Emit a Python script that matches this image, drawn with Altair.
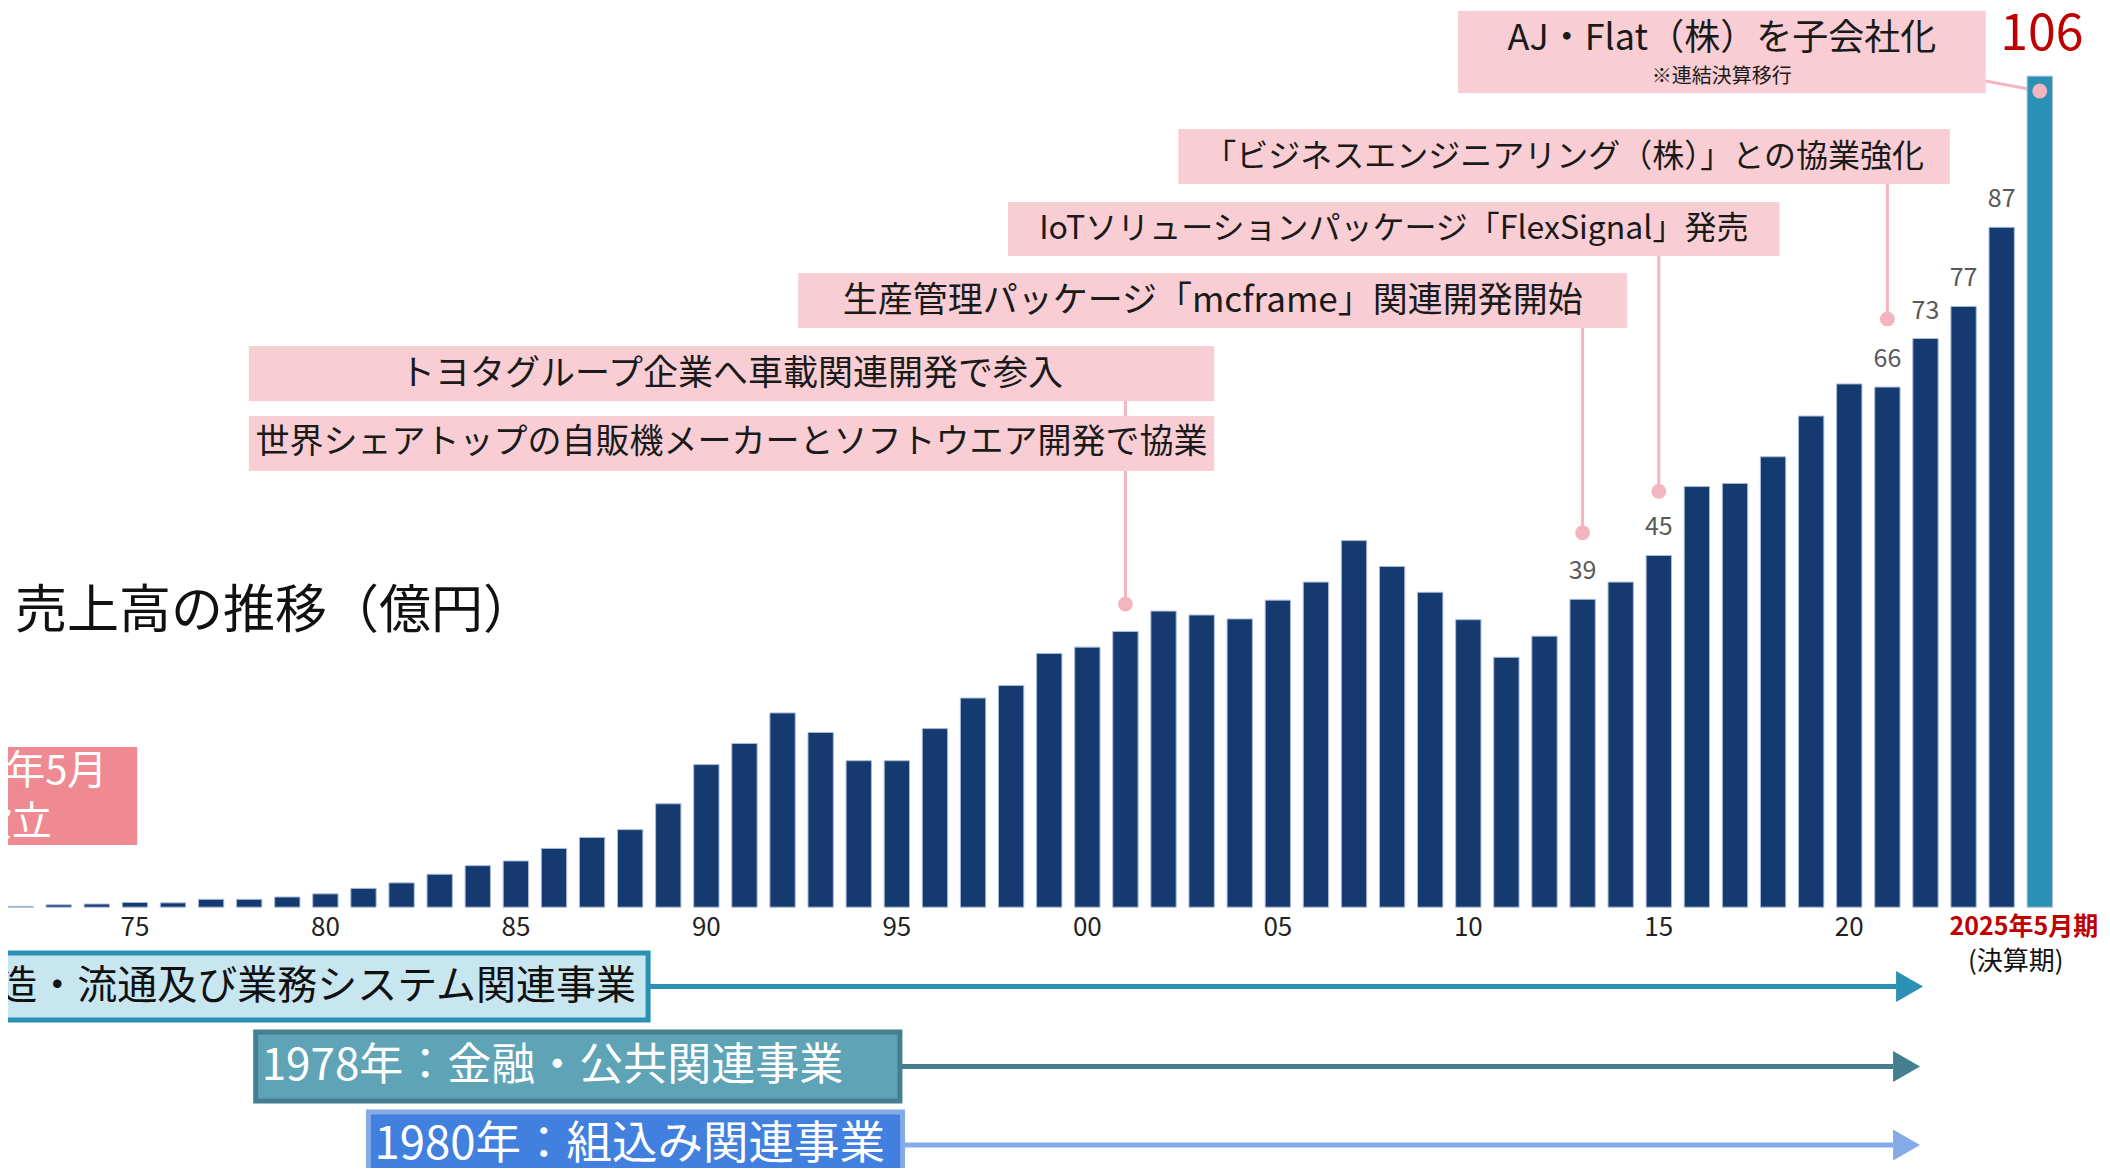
import altair as alt
import pandas as pd

# ---------------- data ----------------
years = list(range(1972, 2026))
sales = [0.1, 0.3, 0.4, 0.6, 0.55, 1.0, 1.0, 1.3, 1.7, 2.4,
         3.1, 4.2, 5.3, 5.9, 7.5, 8.9, 9.9, 13.2, 18.2, 20.9,
         24.8, 22.3, 18.7, 18.7, 22.8, 26.7, 28.3, 32.4, 33.2, 35.2,
         37.8, 37.3, 36.8, 39.2, 41.5, 46.8, 43.5, 40.2, 36.7, 31.9,
         34.6, 39.3, 41.5, 44.9, 53.7, 54.1, 57.5, 62.7, 66.8, 66.4,
         72.6, 76.7, 86.8, 106.1]

label_years = [2013, 2015, 2021, 2022, 2023, 2024]
label_texts = ["39", "45", "66", "73", "77", "87"]
latest_year = [2025]
latest_text = ["106"]

tick_years = [1975, 1980, 1985, 1990, 1995, 2000, 2005, 2010, 2015, 2020]
tick_texts = ["75", "80", "85", "90", "95", "00", "05", "10", "15", "20"]

title_text = "売上高の推移（億円）"
found_lines = ["1970年5月", "設立"]
period_text = "2025年5月期"
period_sub = "(決算期)"

event_texts = ["AJ・Flat（株）を子会社化",
               "「ビジネスエンジニアリング（株）」との協業強化",
               "IoTソリューションパッケージ「FlexSignal」発売",
               "生産管理パッケージ「mcframe」関連開発開始",
               "トヨタグループ企業へ車載関連開発で参入",
               "世界シェアトップの自販機メーカーとソフトウエア開発で協業"]
event_note = "※連結決算移行"
event_box_x0 = [2009.73, 2002.39, 1997.92, 1992.41, 1977.99, 1977.99]
event_box_x1 = [2023.58, 2022.64, 2018.17, 2014.17, 2003.33, 2003.33]
event_box_y0 = [103.95, 92.33, 83.14, 73.94, 64.62, 55.69]
event_box_y1 = [114.42, 99.35, 90.03, 80.97, 71.65, 62.71]
event_font = [36, 32, 32, 35, 35, 34]

leader_year = [2021, 2015, 2013, 2001]
leader_top = [92.33, 83.14, 73.94, 64.62]
leader_dot = [75.1, 53.1, 47.8, 38.7]
aj_leader = {"x": 2023.58, "y": 105.48, "x2": 2025, "y2": 104.2}

row_texts = ["1970年：製造・流通及び業務システム関連事業",
             "1978年：金融・公共関連事業",
             "1980年：組込み関連事業"]
row_x0 = [1970.0, 1978.17, 1981.13]
row_x1 = [1988.47, 1995.08, 1995.15]
row_top = [-5.85, -15.94, -26.15]
row_bot = [-14.41, -24.75, -40.0]
row_arrow_end = [2021.23, 2021.15, 2021.15]
row_fill = ["#C7E6F0", "#5FA3B6", "#4180DF"]
row_stroke = ["#2A91B4", "#437F8F", "#84AAE8"]
row_font = [40, 44, 45.5]

# ---------------- geometry ----------------
W, H = 2094, 1160
PX_YEAR = 38.28
PX_UNIT = 7.8325
X0 = 1971.8
X1 = X0 + W / PX_YEAR
YMAX = 114.8
YMIN = YMAX - H / PX_UNIT

xs = alt.Scale(domain=[X0, X1], nice=False, zero=False)
ys = alt.Scale(domain=[YMIN, YMAX], nice=False, zero=False)
FONT = "Noto Sans CJK JP"

navy = "#143A6F"
teal = "#2A91B4"
pink_box = "#F8CDD3"
pink_line = "#F4B5BE"


def X(f):
    return alt.X(f, type="quantitative", scale=xs, axis=None)


def Y(f):
    return alt.Y(f, type="quantitative", scale=ys, axis=None)


# ---------------- layers ----------------
bars_df = pd.DataFrame({"year": years, "sales": sales})
bars = alt.Chart(bars_df).mark_bar(size=25.3, stroke="#A8BAD8", strokeWidth=1).encode(
    x=X("year"), y=Y("sales"), y2=alt.datum(0),
    color=alt.condition(alt.datum.year == 2025, alt.value(teal), alt.value(navy)),
)

sales_of = dict(zip(years, sales))
lab_df = pd.DataFrame({"year": label_years,
                       "v": [sales_of[y] for y in label_years],
                       "t": label_texts})
labels = alt.Chart(lab_df).mark_text(dy=-28, fontSize=25, color="#595959", font=FONT).encode(
    x=X("year"), y=Y("v"), text="t:N")

lat_df = pd.DataFrame({"year": latest_year, "v": [sales_of[y] for y in latest_year], "t": latest_text})
latest = alt.Chart(lat_df).mark_text(dy=-41, dx=2, fontSize=50, color="#C00000", font=FONT).encode(
    x=X("year"), y=Y("v"), text="t:N")

# leaders
lead_df = pd.DataFrame({"x": leader_year, "y": leader_top, "y2": leader_dot})
leaders = alt.Chart(lead_df).mark_rule(color=pink_line, strokeWidth=3).encode(
    x=X("x"), y=Y("y"), y2="y2:Q")
aj_df = pd.DataFrame([aj_leader])
aj_line = alt.Chart(aj_df).mark_rule(color=pink_line, strokeWidth=3).encode(
    x=X("x"), y=Y("y"), x2="x2:Q", y2="y2:Q")
dot_df = pd.DataFrame({"x": leader_year + [aj_leader["x2"]], "y": leader_dot + [aj_leader["y2"]]})
dots = alt.Chart(dot_df).mark_point(shape="circle", filled=True, size=220, opacity=1, color=pink_line).encode(
    x=X("x"), y=Y("y"))

# event boxes
ev_df = pd.DataFrame({"t": event_texts, "x0": event_box_x0, "x1": event_box_x1,
                      "y0": event_box_y0, "y1": event_box_y1, "fs": event_font})
ev_df["cx"] = (ev_df["x0"] + ev_df["x1"]) / 2
ev_df["cy"] = (ev_df["y0"] + ev_df["y1"]) / 2
ev_df.loc[0, "cy"] = 110.84
boxes = alt.Chart(ev_df).mark_rect(color=pink_box).encode(
    x=X("x0"), x2="x1:Q", y=Y("y0"), y2="y1:Q")
ev_text = alt.Chart(ev_df).mark_text(font=FONT, color="#1A1A1A", baseline="middle").encode(
    x=X("cx"), y=Y("cy"), text="t:N", size=alt.Size("fs:Q", scale=None))
note_df = pd.DataFrame({"x": [ev_df.loc[0, "cx"]], "y": [106.0], "t": [event_note]})
note = alt.Chart(note_df).mark_text(font=FONT, fontSize=20, color="#1A1A1A", baseline="middle").encode(
    x=X("x"), y=Y("y"), text="t:N")

# title
title_df = pd.DataFrame({"x": [1971.85], "y": [37.69], "t": [title_text]})
title = alt.Chart(title_df).mark_text(font=FONT, fontSize=52, color="#111111", align="left",
                                      baseline="middle").encode(x=X("x"), y=Y("y"), text="t:N")

# founding box
fb_df = pd.DataFrame({"x0": [1969.0], "x1": [1975.06], "y0": [7.94], "y1": [20.45]})
found_box = alt.Chart(fb_df).mark_rect(color="#EF8A92").encode(
    x=X("x0"), x2="x1:Q", y=Y("y0"), y2="y1:Q")
ft_df = pd.DataFrame({"x": [1971.77, 1971.77], "y": [17.26, 10.75], "t": found_lines})
found_text = alt.Chart(ft_df).mark_text(font=FONT, fontSize=40, color="white", baseline="middle").encode(
    x=X("x"), y=Y("y"), text="t:N")

# x tick labels
tk_df = pd.DataFrame({"x": tick_years, "t": tick_texts, "y": [-2.66] * len(tick_years)})
ticks = alt.Chart(tk_df).mark_text(font=FONT, fontSize=26, color="#222222", baseline="middle").encode(
    x=X("x"), y=Y("y"), text="t:N")
pd_df = pd.DataFrame({"x": latest_year, "y": [-2.5], "t": [period_text]})
period = alt.Chart(pd_df).mark_text(font=FONT, fontSize=25, fontWeight="bold", color="#C00000",
                                    baseline="middle", dx=-16).encode(x=X("x"), y=Y("y"), text="t:N")
ps_df = pd.DataFrame({"x": latest_year, "y": [-7.0], "t": [period_sub]})
period2 = alt.Chart(ps_df).mark_text(font=FONT, fontSize=26, color="#111111",
                                     baseline="middle", dx=-24).encode(x=X("x"), y=Y("y"), text="t:N")

# business rows
rw_df = pd.DataFrame({"t": row_texts, "x0": row_x0, "x1": row_x1, "top": row_top, "bot": row_bot,
                      "end": row_arrow_end, "fill": row_fill, "stroke": row_stroke, "fs": row_font})
rw_df["cy"] = (rw_df["top"] + rw_df["bot"]) / 2
rw_df.loc[2, "cy"] = -30.36
rw_df["head"] = rw_df["end"] + 13.5 / PX_YEAR

shafts = alt.Chart(rw_df).mark_rule(strokeWidth=5).encode(
    x=X("x1"), x2="end:Q", y=Y("cy"), color=alt.Color("stroke:N", scale=None))
heads = alt.Chart(rw_df).mark_point(shape="M-1,-1.15L1,0L-1,1.15Z", filled=True, size=729, opacity=1).encode(
    x=X("head"), y=Y("cy"), color=alt.Color("stroke:N", scale=None))
row_boxes = alt.Chart(rw_df).mark_rect(strokeWidth=5).encode(
    x=X("x0"), x2="x1:Q", y=Y("top"), y2="bot:Q",
    fill=alt.Fill("fill:N", scale=None), stroke=alt.Stroke("stroke:N", scale=None))
row1_text = alt.Chart(rw_df.iloc[[0]]).mark_text(font=FONT, align="right", baseline="middle",
                                                 color="#111111", dx=-12).encode(
    x=X("x1"), y=Y("cy"), text="t:N", size=alt.Size("fs:Q", scale=None))
row23_text = alt.Chart(rw_df.iloc[[1, 2]]).mark_text(font=FONT, align="left", baseline="middle",
                                                     color="white", dx=6).encode(
    x=X("x0"), y=Y("cy"), text="t:N", size=alt.Size("fs:Q", scale=None))

chart = alt.layer(
    leaders, aj_line, bars, labels, latest, boxes, ev_text, note, dots,
    title, found_box, found_text, ticks, period, period2,
    shafts, heads, row_boxes, row1_text, row23_text,
).properties(
    width=W, height=H, padding=0, background="white",
    autosize=alt.AutoSizeParams(type="none"),
).configure_view(stroke=None)

chart.save("out.html", embed_options={"renderer": "svg", "actions": False})
